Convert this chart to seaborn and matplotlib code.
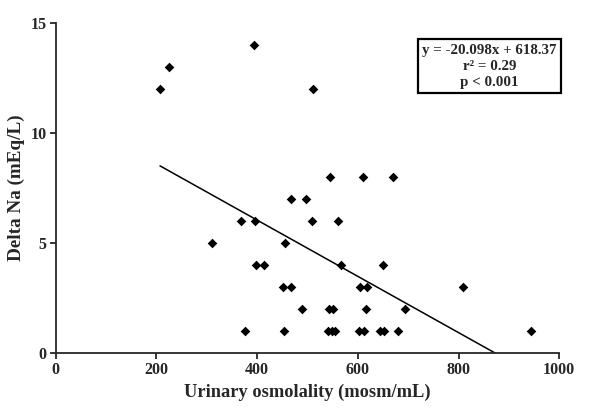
import numpy as np
import pandas as pd
import matplotlib
matplotlib.use('Agg')
import matplotlib.pyplot as plt
import seaborn as sns

# Data
osmolality = [207, 225, 394, 511,
              545, 610, 670,
              467, 497,
              368, 395, 509, 561,
              310, 455,
              398, 414, 567, 649,
              451, 467, 604, 619, 809,
              489, 543, 550, 616, 694,
              376, 453, 541, 548, 555, 602, 613, 644, 652, 680, 944]
delta_na = [12, 13, 14, 12,
            8, 8, 8,
            7, 7,
            6, 6, 6, 6,
            5, 5,
            4, 4, 4, 4,
            3, 3, 3, 3, 3,
            2, 2, 2, 2, 2,
            1, 1, 1, 1, 1, 1, 1, 1, 1, 1, 1]
x_ticks = [0, 200, 400, 600, 800, 1000]
y_ticks = [0, 5, 10, 15]
stats_text = "y = -20.098x + 618.37\nr² = 0.29\np < 0.001"

df = pd.DataFrame({'osm': osmolality, 'na': delta_na})

sns.set_style('ticks')
plt.rcParams['font.family'] = ['Liberation Serif', 'DejaVu Serif']
plt.rcParams['font.weight'] = 'bold'

fig = plt.figure(figsize=(6, 4.09), dpi=100)
ax = fig.add_axes([0.093, 0.137, 0.839, 0.807])

sns.regplot(data=df, x='osm', y='na', ci=None, truncate=True, ax=ax,
            marker='D', color='black',
            scatter_kws={'s': 24, 'linewidths': 0, 'alpha': 1},
            line_kws={'linewidth': 1.1})

ax.set_xlim(0, 1000)
ax.set_ylim(0, 15)
ax.set_xticks(x_ticks)
ax.set_yticks(y_ticks)
sns.despine(ax=ax)
for side in ['left', 'bottom']:
    ax.spines[side].set_linewidth(1.3)
ax.tick_params(axis='both', direction='out', length=4, width=1.3,
               labelsize=11.5, pad=2.5)
for lab in ax.get_xticklabels() + ax.get_yticklabels():
    lab.set_fontweight('bold')

ax.set_xlabel('Urinary osmolality (mosm/mL)', fontsize=13.2, fontweight='bold')
ax.set_ylabel('Delta Na (mEq/L)', fontsize=13.8, fontweight='bold')

ax.text(0.862, 0.868, stats_text, transform=ax.transAxes, ha='center', va='center',
        fontsize=10.8, fontweight='bold', linespacing=1.3,
        bbox=dict(boxstyle='square,pad=0.3', facecolor='white',
                  edgecolor='black', linewidth=1.6))

fig.savefig('out.png', dpi=100)
